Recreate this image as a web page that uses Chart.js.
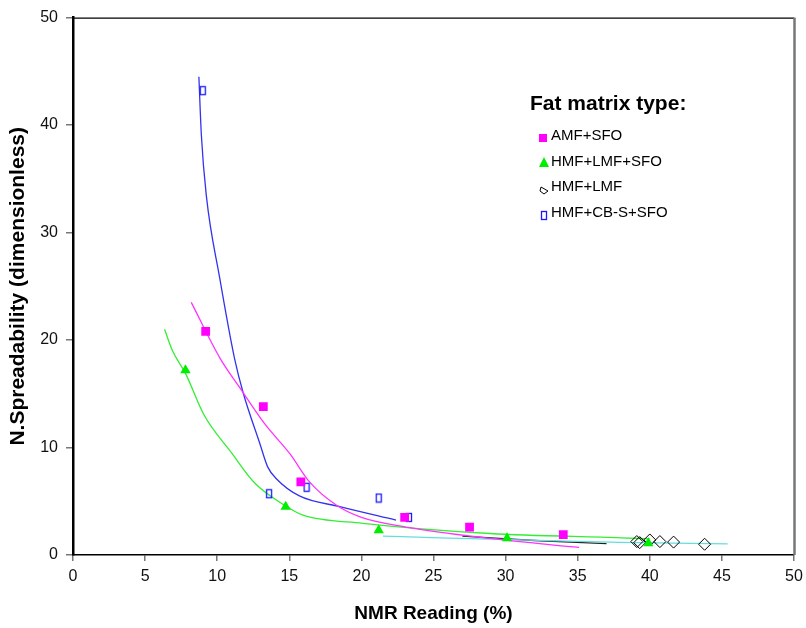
<!DOCTYPE html>
<html>
<head>
<meta charset="utf-8">
<script src="https://cdn.jsdelivr.net/npm/chart.js@4.4.1/dist/chart.umd.min.js"></script>
<style>
  html, body { margin: 0; padding: 0; background: #fff; }
  #wrap { width: 806px; height: 628px; }
</style>
</head>
<body>
<div id="wrap"><canvas id="chart" width="806" height="628"></canvas></div>
<script>
// measured points
const amfX = [9.2, 13.2, 15.8, 23.0, 27.5, 34.0];
const amfY = [20.8, 13.8, 6.8, 3.5, 2.6, 1.9];
const hlsX = [7.8, 14.75, 21.2, 30.1, 39.9];
const hlsY = [17.2, 4.5, 2.3, 1.55, 1.1];
const hlX = [39.1, 39.3, 40.0, 40.7, 41.65, 43.8];
const hlY = [1.25, 1.15, 1.4, 1.25, 1.2, 1.0];
const cbX = [9.0, 13.6, 16.2, 21.2, 23.3];
const cbY = [43.2, 5.7, 6.3, 5.3, 3.5];

// fitted curves
const amfFitX = [8.2, 10.2, 11.55, 13.3, 15.05, 16.4, 18.3, 20.0, 23.1, 28.9, 35.1];
const amfFitY = [23.5, 18.3, 15.6, 12.2, 9.4, 6.8, 4.6, 3.5, 2.6, 1.55, 0.7];
const hlsFitX = [6.35, 6.9, 7.8, 9.1, 11.0, 12.6, 14.7, 15.95, 20.1, 28.9, 38.0, 40.0];
const hlsFitY = [21.0, 19.0, 16.9, 13.0, 9.5, 6.7, 4.6, 3.7, 2.95, 2.0, 1.6, 1.5];
const cbFitX = [8.73, 8.9, 9.24, 10.17, 11.2, 11.8, 12.95, 13.5, 14.1, 15.7, 18.5, 22.4];
const cbFitY = [44.5, 39.1, 33.5, 25.8, 18.3, 15.1, 10.4, 8.2, 7.1, 5.5, 4.5, 3.25];
const cyanFitX = [21.5, 25.4, 31.0, 37.9, 45.4];
const cyanFitY = [1.76, 1.6, 1.4, 1.18, 1.03];
const blackFitX = [27.0, 32.0, 37.0];
const blackFitY = [1.75, 1.35, 1.05];

const seriesNames = ['AMF+SFO', 'HMF+LMF+SFO', 'HMF+LMF', 'HMF+CB-S+SFO'];
const legendTitle = 'Fat matrix type:';
const xTitle = 'NMR Reading (%)';
const yTitle = 'N.Spreadability (dimensionless)';

const FONT = "'Liberation Sans', Arial, sans-serif";

function pts(xs, ys) {
  return xs.map((x, i) => ({ x: x, y: ys[i] }));
}

// small open rectangle used for the CB-S markers
function openRect() {
  const c = document.createElement('canvas');
  c.width = 8; c.height = 11;
  const g = c.getContext('2d');
  g.strokeStyle = '#1a1aff';
  g.lineWidth = 1.3;
  g.strokeRect(1.5, 1.5, 5, 8);
  return c;
}
const rectImg = openRect();

function fitLine(xs, ys, color) {
  return {
    data: pts(xs, ys),
    showLine: true,
    borderColor: color,
    borderWidth: 1.3,
    pointRadius: 0,
    cubicInterpolationMode: 'monotone',
    fill: false
  };
}

// draw the legend box and the frame lines excel puts round the plot
const extras = {
  id: 'extras',
  afterDraw(chart) {
    const ctx = chart.ctx;
    const a = chart.chartArea;
    ctx.save();
    ctx.strokeStyle = '#000';
    ctx.lineWidth = 1.3;
    ctx.beginPath();
    ctx.moveTo(a.left, a.top + 0.5);
    ctx.lineTo(a.right, a.top + 0.5);
    ctx.stroke();
    ctx.strokeStyle = '#777';
    ctx.lineWidth = 2.5;
    ctx.beginPath();
    ctx.moveTo(a.right + 0.5, a.top);
    ctx.lineTo(a.right + 0.5, a.bottom);
    ctx.stroke();

    ctx.fillStyle = '#000';
    ctx.textBaseline = 'middle';
    ctx.textAlign = 'left';
    ctx.font = 'bold 21px ' + FONT;
    ctx.fillText(legendTitle, 530, 104);

    ctx.font = '15px ' + FONT;
    const ys = [136, 162, 187, 213];
    seriesNames.forEach((name, i) => ctx.fillText(name, 551, ys[i]));

    // markers
    ctx.fillStyle = '#ff00ff';
    ctx.fillRect(539, 134, 8, 8);
    ctx.fillStyle = '#00ee00';
    ctx.beginPath();
    ctx.moveTo(544, 157); ctx.lineTo(549, 167); ctx.lineTo(539, 167); ctx.closePath();
    ctx.fill();
    ctx.strokeStyle = '#000';
    ctx.lineWidth = 1;
    ctx.beginPath();
    ctx.moveTo(541, 187); ctx.lineTo(548, 191); ctx.lineTo(544, 194); ctx.lineTo(540, 191); ctx.closePath();
    ctx.stroke();
    ctx.drawImage(rectImg, 540, 210);
    ctx.restore();
  }
};

new Chart(document.getElementById('chart'), {
  type: 'scatter',
  data: {
    datasets: [
      {
        data: pts(amfX, amfY),
        pointStyle: 'rect',
        pointRadius: 6.2,
        backgroundColor: '#ff00ff',
        borderColor: '#ff00ff',
        borderWidth: 0
      },
      {
        data: pts(hlsX, hlsY),
        pointStyle: 'triangle',
        pointRadius: 6,
        backgroundColor: '#00ee00',
        borderColor: '#00ee00',
        borderWidth: 0
      },
      {
        data: pts(hlX, hlY),
        pointStyle: 'rectRot',
        pointRadius: 6,
        backgroundColor: 'rgba(255,255,255,0)',
        borderColor: '#000',
        borderWidth: 1
      },
      {
        data: pts(cbX, cbY),
        pointStyle: rectImg,
        pointRadius: 5
      },
      fitLine(amfFitX, amfFitY, '#ff33ff'),
      fitLine(hlsFitX, hlsFitY, '#33ee33'),
      fitLine(cbFitX, cbFitY, '#3333ee'),
      fitLine(cyanFitX, cyanFitY, '#66dddd'),
      fitLine(blackFitX, blackFitY, '#222')
    ]
  },
  options: {
    responsive: false,
    animation: false,
    layout: { padding: { left: 0, top: 16, right: 12, bottom: 0 } },
    plugins: {
      legend: { display: false },
      tooltip: { enabled: false }
    },
    scales: {
      x: {
        type: 'linear',
        min: 0,
        max: 50,
        afterFit: s => { s.height = 73; s.paddingRight = 0; s.paddingLeft = 0; },
        ticks: { stepSize: 5, color: '#111', padding: 6, font: { family: FONT, size: 16 } },
        grid: { display: true, drawOnChartArea: false, drawTicks: true, tickLength: 6, color: '#777', lineWidth: 1.5 },
        border: { color: '#000', width: 1.5 },
        title: { display: true, text: xTitle, color: '#000', padding: { top: 0, bottom: 3 }, font: { family: FONT, size: 19, weight: 'bold' } }
      },
      y: {
        min: 0,
        max: 50,
        afterFit: s => { s.width = 73; },
        ticks: { stepSize: 10, color: '#111', padding: 8, font: { family: FONT, size: 16 } },
        grid: { display: true, drawOnChartArea: false, drawTicks: true, tickLength: 7, color: '#777', lineWidth: 1.5 },
        border: { color: '#000', width: 2.5 },
        title: { display: true, text: yTitle, color: '#000', padding: { top: 6, bottom: 0 }, font: { family: FONT, size: 21, weight: 'bold' } }
      }
    }
  },
  plugins: [extras]
});
</script>
</body>
</html>
